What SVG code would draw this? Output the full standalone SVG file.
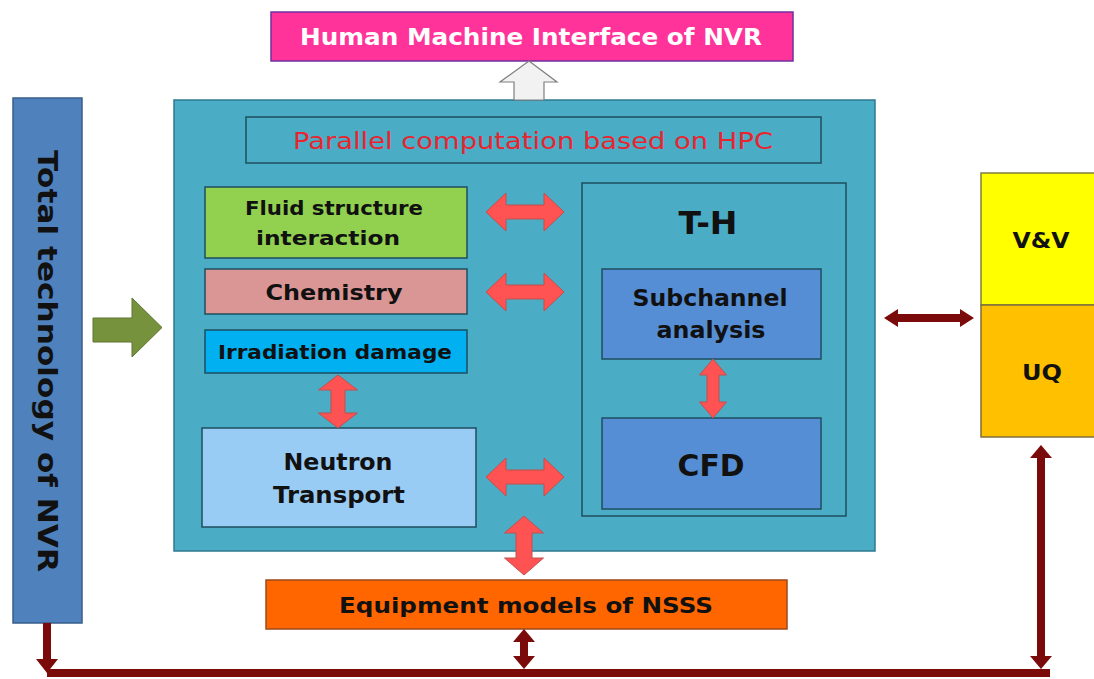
<svg xmlns="http://www.w3.org/2000/svg" width="1094" height="679" viewBox="0 0 1094 679">
<style>
.box{stroke:#1F4E5F;stroke-width:1.5}
.lbl{font-family:"DejaVu Sans","Open Sans",sans-serif;font-weight:bold;fill:#111;text-anchor:middle}
.redarr{fill:#FF5252;stroke:#C0504D;stroke-width:1}
.dr{fill:#7B0A0A}
.drl{stroke:#7B0A0A;stroke-width:8;fill:none}
</style>
<rect width="1094" height="679" fill="#FFFFFF"/>

<g id="hmi">
<rect x="271" y="12" width="522" height="49" fill="#FF3399" stroke="#7030A0" stroke-width="1.5"/>
<text x="531" y="45" class="lbl" style="fill:#FFFFFF;font-size:23px" textLength="462" lengthAdjust="spacingAndGlyphs">Human Machine Interface of NVR</text>
</g>

<g id="total">
<rect x="13" y="98" width="69" height="525" fill="#4F81BD" stroke="#385D8A" stroke-width="1.5"/>
<text transform="translate(47,361) rotate(90)" x="0" y="9" class="lbl" style="font-size:26px" textLength="422" lengthAdjust="spacingAndGlyphs">Total technology of NVR</text>
</g>

<g id="main">
<rect x="174" y="100" width="701" height="451" fill="#4BACC6" stroke="#2E7A8E" stroke-width="1.5"/>
</g>

<g id="parallel">
<rect x="246" y="117" width="575" height="46" fill="#4BACC6" stroke="#1F4E5F" stroke-width="1.5"/>
<text x="533" y="149" style="font-family:'DejaVu Sans',sans-serif;font-size:23px;fill:#E8252F;text-anchor:middle" textLength="480" lengthAdjust="spacingAndGlyphs">Parallel computation based on HPC</text>
</g>

<g id="fluid">
<rect x="205" y="187" width="262" height="71" fill="#92D050" class="box"/>
<text x="334" y="215" class="lbl" style="font-size:20px" textLength="178" lengthAdjust="spacingAndGlyphs">Fluid structure</text>
<text x="328" y="245" class="lbl" style="font-size:20px" textLength="144" lengthAdjust="spacingAndGlyphs">interaction</text>
</g>

<g id="chemistry">
<rect x="205" y="269" width="262" height="45" fill="#D99694" class="box"/>
<text x="334" y="300" class="lbl" style="font-size:22px" textLength="137" lengthAdjust="spacingAndGlyphs">Chemistry</text>
</g>

<g id="irradiation">
<rect x="205" y="330" width="262" height="43" fill="#00B0F0" class="box"/>
<text x="335" y="359" class="lbl" style="font-size:20px" textLength="234" lengthAdjust="spacingAndGlyphs">Irradiation damage</text>
</g>

<g id="neutron">
<rect x="202" y="428" width="274" height="99" fill="#99CCF5" class="box"/>
<text x="338" y="470" class="lbl" style="font-size:23px" textLength="109" lengthAdjust="spacingAndGlyphs">Neutron</text>
<text x="339" y="503" class="lbl" style="font-size:23px" textLength="132" lengthAdjust="spacingAndGlyphs">Transport</text>
</g>

<g id="th">
<rect x="582" y="183" width="264" height="333" fill="#4BACC6" class="box"/>
<text x="708" y="234" class="lbl" style="font-size:32px" textLength="59" lengthAdjust="spacingAndGlyphs">T-H</text>
</g>

<g id="subchannel">
<rect x="602" y="269" width="219" height="90" fill="#558ED5" class="box"/>
<text x="710" y="306" class="lbl" style="font-size:23px" textLength="155" lengthAdjust="spacingAndGlyphs">Subchannel</text>
<text x="711" y="338" class="lbl" style="font-size:23px" textLength="109" lengthAdjust="spacingAndGlyphs">analysis</text>
</g>

<g id="cfd">
<rect x="602" y="418" width="219" height="91" fill="#558ED5" class="box"/>
<text x="711" y="476" class="lbl" style="font-size:30px" textLength="67" lengthAdjust="spacingAndGlyphs">CFD</text>
</g>

<g id="vv">
<rect x="981" y="173" width="120" height="132" fill="#FFFF00" stroke="#7F7F3F" stroke-width="1.5"/>
<text x="1041" y="248" class="lbl" style="font-size:22px" textLength="57" lengthAdjust="spacingAndGlyphs">V&amp;V</text>
</g>

<g id="uq">
<rect x="981" y="305" width="120" height="132" fill="#FFC000" stroke="#7F6F3F" stroke-width="1.5"/>
<text x="1042" y="380" class="lbl" style="font-size:22px" textLength="40" lengthAdjust="spacingAndGlyphs">UQ</text>
</g>

<g id="equipment">
<rect x="266" y="580" width="521" height="49" fill="#FF6600" stroke="#9C4A1A" stroke-width="1.5"/>
<text x="526" y="613" class="lbl" style="font-size:22px" textLength="374" lengthAdjust="spacingAndGlyphs">Equipment  models of NSSS</text>
</g>

<g id="connectors">
<polygon points="529,61 557,82 544,82 544,100 514,100 514,82 500,82" fill="#F2F2F2" stroke="#7F7F7F" stroke-width="1.2"/>
<polygon points="93,318 132,318 132,298 162,327.5 132,357 132,342 93,342" fill="#76923C" stroke="#5E7530" stroke-width="1"/>
<polygon class="redarr" points="486,212 506,193 506,205 544,205 544,193 564,212 544,231 544,219 506,219 506,231"/>
<polygon class="redarr" points="486,292 506,273 506,285 544,285 544,273 564,292 544,311 544,299 506,299 506,311"/>
<polygon class="redarr" points="486,477 506,458 506,470 544,470 544,458 564,477 544,496 544,484 506,484 506,496"/>
<polygon class="redarr" points="338,375 357.5,390 345,390 345,413 357.5,413 338,428 318.5,413 331,413 331,390 318.5,390"/>
<polygon class="redarr" points="713,359 726.5,375 719,375 719,402 726.5,402 713,418 699.5,402 707,402 707,375 699.5,375"/>
<polygon class="redarr" points="524,516 543.5,533 532,533 532,558 543.5,558 524,575 504.5,558 516,558 516,533 504.5,533"/>
<polygon class="dr" points="884,318 898,309 898,314 960,314 960,309 974,318 960,327 960,322 898,322 898,327"/>
<line class="drl" x1="47" y1="673" x2="1050" y2="673"/>
<line class="drl" x1="47" y1="623" x2="47" y2="660"/>
<polygon class="dr" points="36,659 58,659 47,673"/>
<line class="drl" x1="524" y1="640" x2="524" y2="658"/>
<polygon class="dr" points="524,629 535,642 513,642"/>
<polygon class="dr" points="513,656 535,656 524,669"/>
<line class="drl" x1="1041" y1="456" x2="1041" y2="660"/>
<polygon class="dr" points="1041,445 1052,458 1030,458"/>
<polygon class="dr" points="1030,656 1052,656 1041,669"/>
</g>
</svg>
